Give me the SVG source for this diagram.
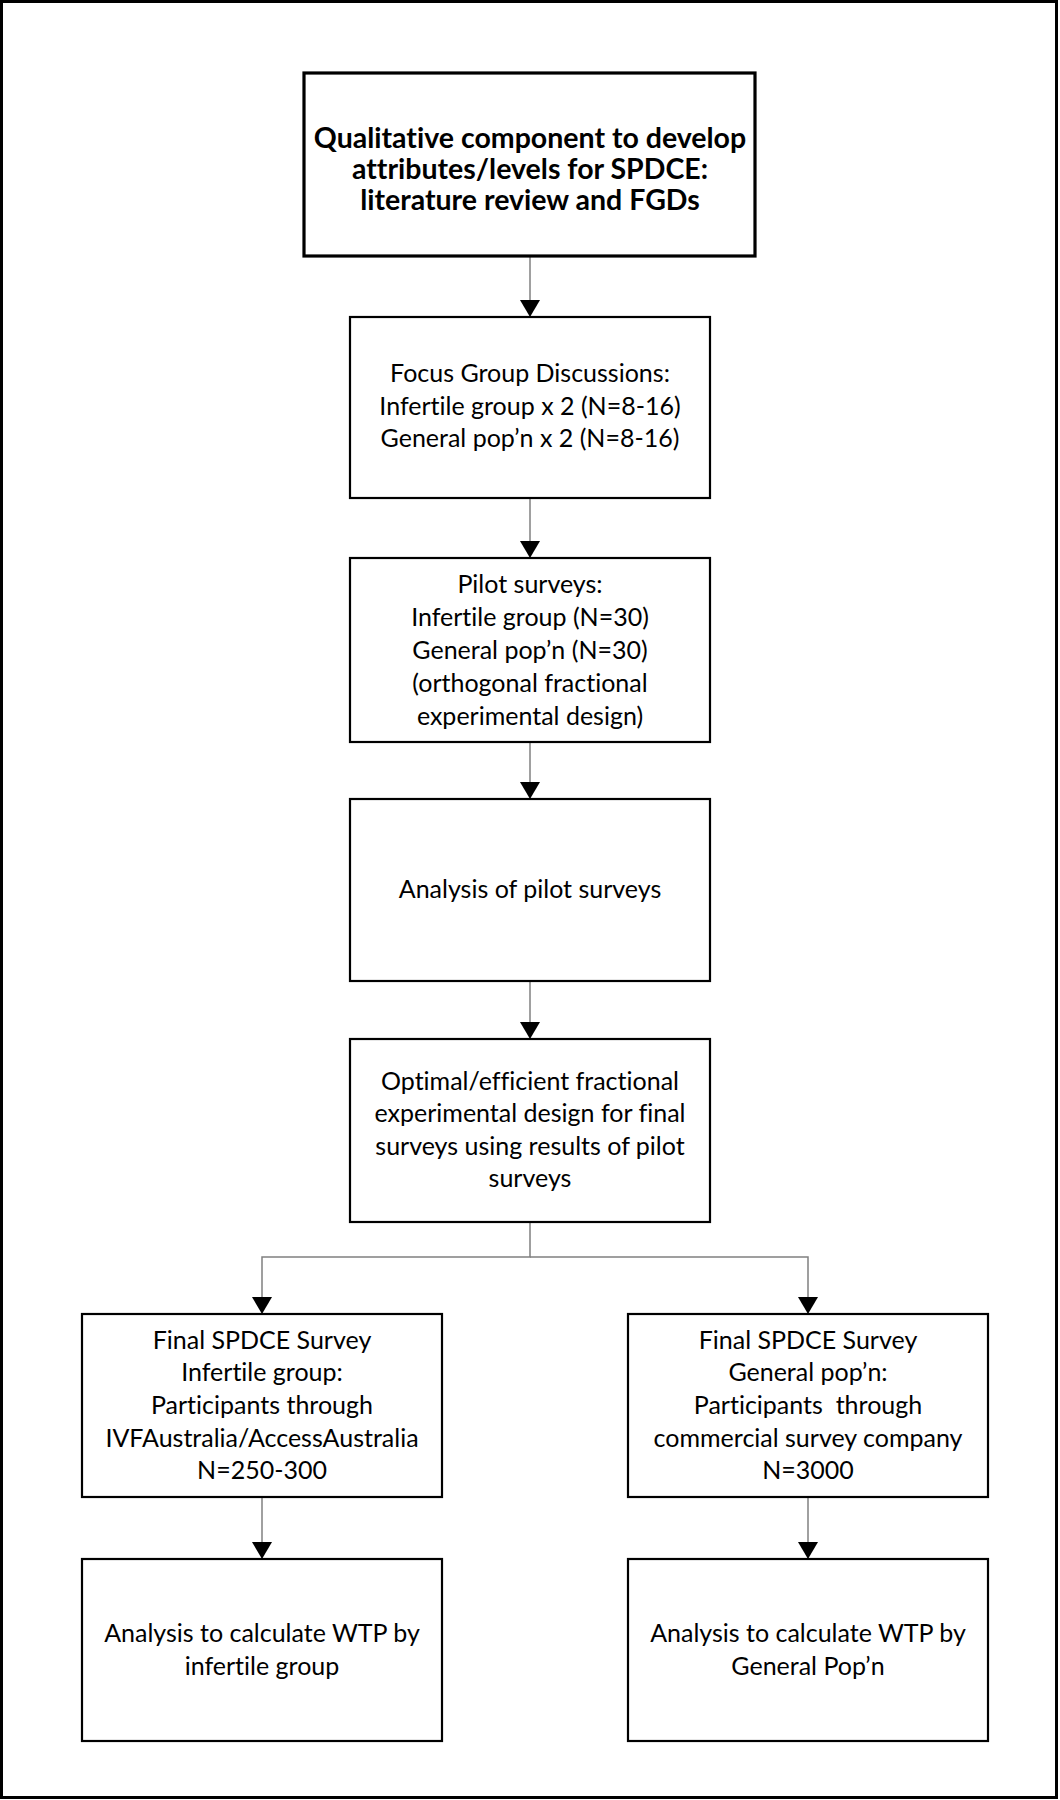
<svg xmlns="http://www.w3.org/2000/svg" width="1060" height="1800" viewBox="0 0 1060 1800">
<style>
.frame{fill:#fff;stroke:#000;stroke-width:3}
.box{fill:#fff;stroke:#000;stroke-width:2.2}
.box1{stroke-width:3.2}
.conn{fill:none;stroke:#808080;stroke-width:1.5}
text{font-family:Lato,"Open Sans","Liberation Sans",sans-serif;font-size:25px;fill:#000;text-anchor:middle;font-variant-ligatures:none;font-feature-settings:"liga" 0}
.bold{font-weight:bold;font-size:28.5px}
</style>
<defs>
<marker id="arr" viewBox="0 0 17 20" refX="17" refY="10" markerWidth="17" markerHeight="20" markerUnits="userSpaceOnUse" orient="auto">
<path d="M0,0 L17,10 L0,20 z" fill="#000"/>
</marker>
</defs>
<rect class="frame" x="1.5" y="1.5" width="1055" height="1796"/>
<g id="connectors">
<path class="conn" d="M530,256 V317" marker-end="url(#arr)"/>
<path class="conn" d="M530,498 V558" marker-end="url(#arr)"/>
<path class="conn" d="M530,742 V799" marker-end="url(#arr)"/>
<path class="conn" d="M530,981 V1039" marker-end="url(#arr)"/>
<path class="conn" d="M530,1222 V1257 H262 V1314" marker-end="url(#arr)"/>
<path class="conn" d="M530,1257 H808 V1314" marker-end="url(#arr)"/>
<path class="conn" d="M262,1497 V1559" marker-end="url(#arr)"/>
<path class="conn" d="M808,1497 V1559" marker-end="url(#arr)"/>
</g>
<g id="qualitative">
<rect class="box box1" x="304" y="73" width="451" height="183"/>
<text class="bold" x="530" y="148">Qualitative component to develop</text>
<text class="bold" x="530" y="179">attributes/levels for SPDCE:</text>
<text class="bold" x="530" y="210">literature review and FGDs</text>
</g>
<g id="fgd">
<rect class="box" x="350" y="317" width="360" height="181"/>
<text x="530" y="382">Focus Group Discussions:</text>
<text x="530" y="415">Infertile group x 2 (N=8-16)</text>
<text x="530" y="447">General pop’n x 2 (N=8-16)</text>
</g>
<g id="pilot">
<rect class="box" x="350" y="558" width="360" height="184"/>
<text x="530" y="593">Pilot surveys:</text>
<text x="530" y="626">Infertile group (N=30)</text>
<text x="530" y="659">General pop’n (N=30)</text>
<text x="530" y="692">(orthogonal fractional</text>
<text x="530" y="725">experimental design)</text>
</g>
<g id="analysis-pilot">
<rect class="box" x="350" y="799" width="360" height="182"/>
<text x="530" y="898">Analysis of pilot surveys</text>
</g>
<g id="optimal">
<rect class="box" x="350" y="1039" width="360" height="183"/>
<text x="530" y="1090">Optimal/efficient fractional</text>
<text x="530" y="1122">experimental design for final</text>
<text x="530" y="1155">surveys using results of pilot</text>
<text x="530" y="1187">surveys</text>
</g>
<g id="final-infertile">
<rect class="box" x="82" y="1314" width="360" height="183"/>
<text x="262" y="1349">Final SPDCE Survey</text>
<text x="262" y="1381">Infertile group:</text>
<text x="262" y="1414">Participants through</text>
<text x="262" y="1447">IVFAustralia/AccessAustralia</text>
<text x="262" y="1479">N=250-300</text>
</g>
<g id="final-general">
<rect class="box" x="628" y="1314" width="360" height="183"/>
<text x="808" y="1349">Final SPDCE Survey</text>
<text x="808" y="1381">General pop’n:</text>
<text x="808" y="1414" xml:space="preserve">Participants  through</text>
<text x="808" y="1447">commercial survey company</text>
<text x="808" y="1479">N=3000</text>
</g>
<g id="wtp-infertile">
<rect class="box" x="82" y="1559" width="360" height="182"/>
<text x="262" y="1642">Analysis to calculate WTP by</text>
<text x="262" y="1675">infertile group</text>
</g>
<g id="wtp-general">
<rect class="box" x="628" y="1559" width="360" height="182"/>
<text x="808" y="1642">Analysis to calculate WTP by</text>
<text x="808" y="1675">General Pop’n</text>
</g>
</svg>
